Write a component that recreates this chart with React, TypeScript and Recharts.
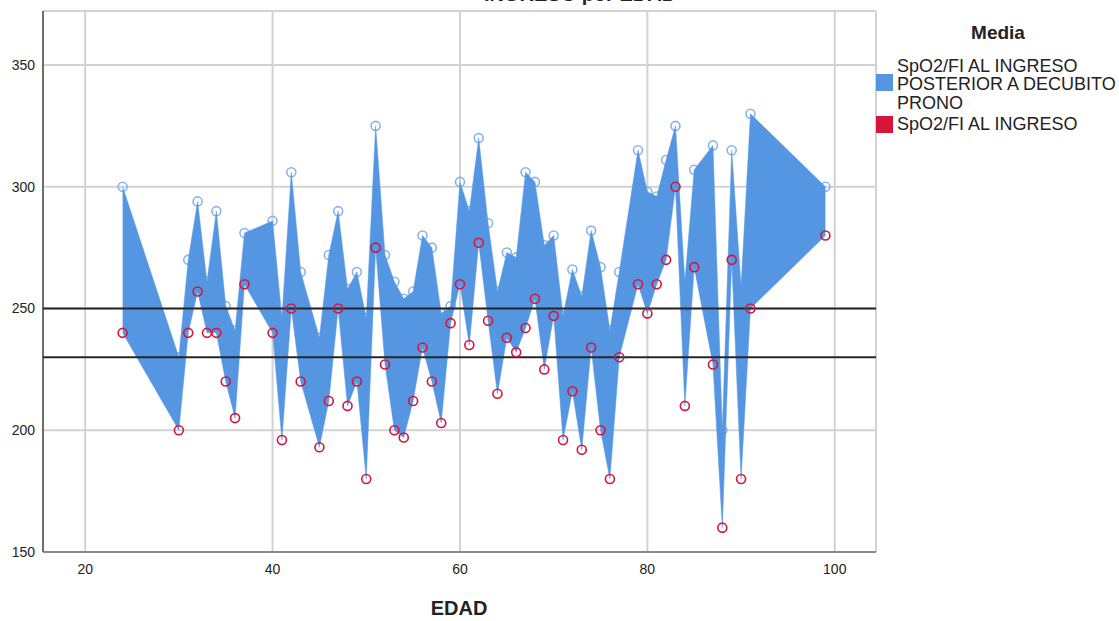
import React from 'react';
import {
  ComposedChart,
  Area,
  Line,
  XAxis,
  YAxis,
  CartesianGrid,
  ReferenceLine,
} from 'recharts';

const ages = [24, 30, 31, 32, 33, 34, 35, 36, 37, 40, 41, 42, 43, 45, 46, 47, 48, 49, 50, 51, 52, 53, 54, 55, 56, 57, 58, 59, 60, 61, 62, 63, 64, 65, 66, 67, 68, 69, 70, 71, 72, 73, 74, 75, 76, 77, 79, 80, 81, 82, 83, 84, 85, 87, 88, 89, 90, 91, 99];

const posteriorValues = [300, 230, 270, 294, 261, 290, 251, 241, 281, 286, 246, 306, 265, 238, 272, 290, 258, 265, 246, 325, 272, 261, 254, 257, 280, 275, 248, 251, 302, 290, 320, 285, 257, 273, 271, 306, 302, 276, 280, 247, 266, 255, 282, 267, 241, 265, 315, 298, 296, 311, 325, 261, 307, 317, 200, 315, 259, 330, 300];

const ingresoValues = [240, 200, 240, 257, 240, 240, 220, 205, 260, 240, 196, 250, 220, 193, 212, 250, 210, 220, 180, 275, 227, 200, 197, 212, 234, 220, 203, 244, 260, 235, 277, 245, 215, 238, 232, 242, 254, 225, 247, 196, 216, 192, 234, 200, 180, 230, 260, 248, 260, 270, 300, 210, 267, 227, 160, 270, 180, 250, 280];

const xTicks = [20, 40, 60, 80, 100];
const yTicks = [150, 200, 250, 300, 350];
const referenceValues = [250, 230];

const legendTitle = 'Media';
const posteriorLabelLines = ['SpO2/FI AL INGRESO', 'POSTERIOR A DECUBITO', 'PRONO'];
const ingresoLabel = 'SpO2/FI AL INGRESO';
const xAxisTitle = 'EDAD';
const chartTitle = 'INGRESO por EDAD';

const data = ages.map((age, i) => ({
  age,
  posterior: posteriorValues[i],
  ingreso: ingresoValues[i],
  range: [ingresoValues[i], posteriorValues[i]],
}));

const BLUE = '#5596E2';
const BLUE_RING = '#86B5EE';
const RED = '#D6143C';
const FONT = '"Liberation Sans", Arial, sans-serif';

const X_DOMAIN: [number, number] = [15.5, 104.4];
const Y_DOMAIN: [number, number] = [150, 372.2];
const MARGIN = { top: 11, right: 243, bottom: 0, left: 0 };

const layerStyle: React.CSSProperties = { position: 'absolute', left: 0, top: 0 };

export default function App() {
  return (
    <div style={{ position: 'absolute', left: 0, top: 0, width: 1119, height: 621, background: '#fff', fontFamily: FONT }}>
      {/* bottom layer: grid, axes, markers of the upper series */}
      <div style={layerStyle}>
        <ComposedChart width={1119} height={621} data={data} margin={MARGIN}>
          <CartesianGrid stroke="#D2D2D2" strokeWidth={2} />
          <XAxis
            type="number"
            dataKey="age"
            domain={X_DOMAIN}
            ticks={xTicks}
            allowDataOverflow
            height={69}
            tickLine={false}
            tickMargin={6}
            axisLine={{ stroke: '#8A8A8A', strokeWidth: 2 }}
            tick={{ fill: '#222', fontSize: 14, fontFamily: FONT }}
          />
          <YAxis
            type="number"
            domain={Y_DOMAIN}
            ticks={yTicks}
            allowDataOverflow
            width={43}
            tickLine={false}
            axisLine={{ stroke: '#6E6E6E', strokeWidth: 2 }}
            tick={{ fill: '#222', fontSize: 14, fontFamily: FONT }}
          />
          <Line
            dataKey="posterior"
            stroke="none"
            isAnimationActive={false}
            dot={{ r: 4.5, stroke: BLUE_RING, strokeWidth: 1.6, fill: 'none' }}
            activeDot={false}
            legendType="none"
          />
        </ComposedChart>
      </div>

      {/* top layer: difference area, reference lines, markers of the lower series */}
      <div style={layerStyle}>
        <ComposedChart width={1119} height={621} data={data} margin={MARGIN}>
          <XAxis
            type="number"
            dataKey="age"
            domain={X_DOMAIN}
            ticks={xTicks}
            allowDataOverflow
            height={69}
            tick={false}
            tickLine={false}
            axisLine={false}
          />
          <YAxis
            type="number"
            domain={Y_DOMAIN}
            ticks={yTicks}
            allowDataOverflow
            width={43}
            tick={false}
            tickLine={false}
            axisLine={false}
          />
          <Area
            dataKey="range"
            type="linear"
            fill={BLUE}
            fillOpacity={1}
            stroke={BLUE}
            strokeWidth={0.5}
            isAnimationActive={false}
            dot={false}
            activeDot={false}
          />
          {referenceValues.map((v) => (
            <ReferenceLine key={v} y={v} stroke="#262626" strokeWidth={2} />
          ))}
          <Line
            dataKey="ingreso"
            stroke="none"
            isAnimationActive={false}
            dot={{ r: 4.5, stroke: RED, strokeWidth: 1.6, fill: 'none' }}
            activeDot={false}
            legendType="none"
          />
        </ComposedChart>
      </div>

      <div style={{ position: 'absolute', left: 380, width: 400, top: -16, textAlign: 'center', fontWeight: 'bold', fontSize: 20, lineHeight: '20px', color: '#222' }}>
        {chartTitle}
      </div>

      <div style={{ position: 'absolute', left: 359, width: 200, top: 596, textAlign: 'center', fontWeight: 'bold', fontSize: 20, lineHeight: '24px', color: '#222' }}>
        {xAxisTitle}
      </div>

      <div style={{ position: 'absolute', left: 948, width: 100, top: 21, textAlign: 'center', fontWeight: 'bold', fontSize: 19, lineHeight: '24px', color: '#222' }}>
        {legendTitle}
      </div>

      <div style={{ position: 'absolute', left: 876, top: 74, width: 17, height: 17, background: BLUE }} />
      <div style={{ position: 'absolute', left: 897, top: 57, fontSize: 18, lineHeight: '18.4px', color: '#222', whiteSpace: 'nowrap' }}>
        {posteriorLabelLines.map((l) => (
          <div key={l}>{l}</div>
        ))}
      </div>

      <div style={{ position: 'absolute', left: 876, top: 116, width: 17, height: 17, background: RED }} />
      <div style={{ position: 'absolute', left: 897, top: 115, fontSize: 18, lineHeight: '18.4px', color: '#222', whiteSpace: 'nowrap' }}>
        {ingresoLabel}
      </div>
    </div>
  );
}
